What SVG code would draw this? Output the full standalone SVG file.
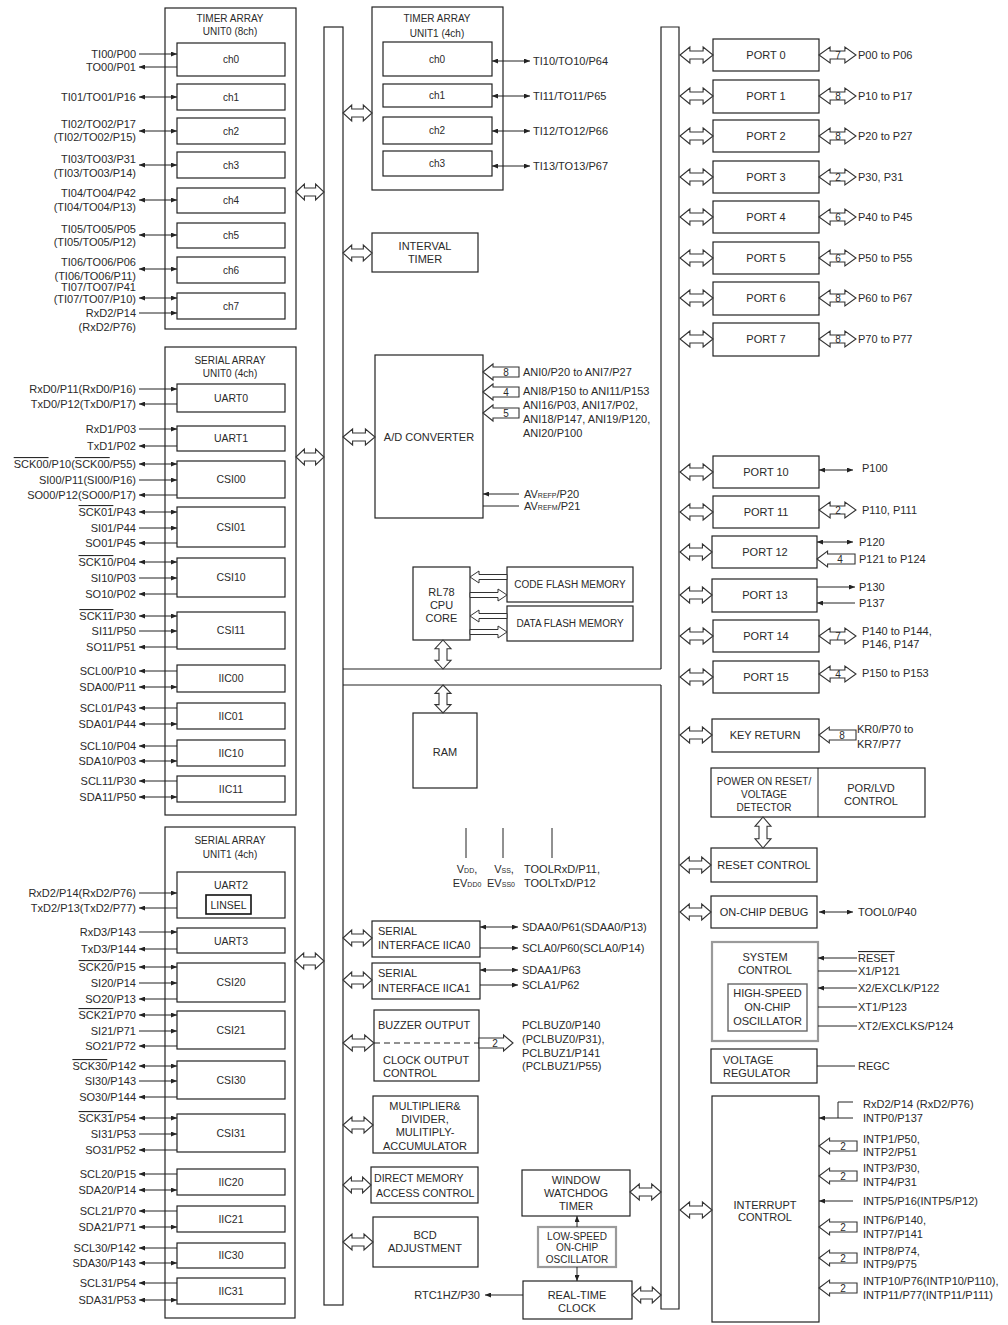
<svg xmlns="http://www.w3.org/2000/svg" width="1008" height="1325" viewBox="0 0 1008 1325">
<defs>
<style>
text{font-family:"Liberation Sans",Arial,Helvetica,sans-serif;font-size:11px;fill:#2a2a2a}
.t10{font-size:10px}
.t105{font-size:10.5px}
.m{text-anchor:middle}
.e{text-anchor:end}
.sm{font-size:7px}
.ol{text-decoration:overline}
.num{font-size:10px;text-anchor:middle}
.box{fill:#fff;stroke:#222;stroke-width:1.2}
.gbox{fill:#fff;stroke:#9a9a9a;stroke-width:2.2}
.ibox{fill:#fff;stroke:#666;stroke-width:1.4}
.bar{fill:none;stroke:#222;stroke-width:1.2}
.ln{fill:none;stroke:#222;stroke-width:1}
.a{marker-end:url(#ae)}
.b{marker-start:url(#ae);marker-end:url(#ae)}
.dash{stroke-dasharray:6,4}
</style>
<marker id="ae" viewBox="0 0 6 5" markerWidth="6" markerHeight="5" refX="6" refY="2.5" orient="auto-start-reverse" markerUnits="userSpaceOnUse"><path d="M0,0L6,2.5L0,5Z" fill="#222"/></marker>
<path id="dh" d="M0,0L9,-8L9,-4L21,-4L21,-8L30,0L21,8L21,4L9,4L9,8Z" fill="#fff" stroke="#333" stroke-width="1.1" vector-effect="non-scaling-stroke"/>
<path id="sh" d="M0,0L10,-8L10,-5L36,-5L36,5L10,5L10,8Z" fill="#fff" stroke="#333" stroke-width="1.1" vector-effect="non-scaling-stroke"/>
<path id="fa" d="M0,0L9,-6L9,-2.5L37,-2.5L37,2.5L9,2.5L9,6Z" fill="#fff" stroke="#333" stroke-width="1" vector-effect="non-scaling-stroke"/>
</defs>
<rect width="1008" height="1325" fill="#fff"/>

<!-- buses -->
<g id="bus-left"><rect class="bar" x="324" y="27" width="19" height="1278"/></g>
<g id="bus-right"><path class="bar" d="M661,669V27H679V1309H661V685"/></g>
<g id="center-top"><path class="bar" d="M343,669H661"/></g>
<g id="center-bottom"><path class="bar" d="M343,685H661"/></g>

<!-- TIMER ARRAY UNIT0 -->
<g id="tau0">
<rect class="box" x="165" y="8" width="131" height="321"/>
<text class="t10 m" x="230" y="22">TIMER ARRAY</text>
<text class="t10 m" x="230" y="35">UNIT0 (8ch)</text>
<rect class="box" x="177" y="43" width="108" height="33"/><text class="t10 m" x="231" y="63">ch0</text>
<rect class="box" x="177" y="84" width="108" height="26"/><text class="t10 m" x="231" y="101">ch1</text>
<rect class="box" x="177" y="118" width="108" height="26"/><text class="t10 m" x="231" y="135">ch2</text>
<rect class="box" x="177" y="152" width="108" height="26"/><text class="t10 m" x="231" y="169">ch3</text>
<rect class="box" x="177" y="188" width="108" height="25"/><text class="t10 m" x="231" y="204">ch4</text>
<rect class="box" x="177" y="223" width="108" height="25"/><text class="t10 m" x="231" y="239">ch5</text>
<rect class="box" x="177" y="257" width="108" height="26"/><text class="t10 m" x="231" y="274">ch6</text>
<rect class="box" x="177" y="293" width="108" height="26"/><text class="t10 m" x="231" y="310">ch7</text>
<text class="e" x="136" y="58">TI00/P00</text>
<text class="e" x="136" y="71">TO00/P01</text>
<text class="e" x="136" y="101">TI01/TO01/P16</text>
<text class="e" x="136" y="128">TI02/TO02/P17</text>
<text class="e" x="136" y="141">(TI02/TO02/P15)</text>
<text class="e" x="136" y="163">TI03/TO03/P31</text>
<text class="e" x="136" y="177">(TI03/TO03/P14)</text>
<text class="e" x="136" y="197">TI04/TO04/P42</text>
<text class="e" x="136" y="211">(TI04/TO04/P13)</text>
<text class="e" x="136" y="233">TI05/TO05/P05</text>
<text class="e" x="136" y="246">(TI05/TO05/P12)</text>
<text class="e" x="136" y="266">TI06/TO06/P06</text>
<text class="e" x="136" y="280">(TI06/TO06/P11)</text>
<text class="e" x="136" y="291">TI07/TO07/P41</text>
<text class="e" x="136" y="303">(TI07/TO07/P10)</text>
<text class="e" x="136" y="317">RxD2/P14</text>
<text class="e" x="136" y="331">(RxD2/P76)</text>
</g>

<!-- SERIAL ARRAY UNIT0 -->
<g id="sau0">
<rect class="box" x="165" y="347" width="131" height="468"/>
<text class="t10 m" x="230" y="364">SERIAL ARRAY</text>
<text class="t10 m" x="230" y="377">UNIT0 (4ch)</text>
<rect class="box" x="177" y="384" width="108" height="28"/><text class="t105 m" x="231" y="402">UART0</text>
<rect class="box" x="177" y="426" width="108" height="25"/><text class="t105 m" x="231" y="442">UART1</text>
<rect class="box" x="177" y="461" width="108" height="37"/><text class="t105 m" x="231" y="483">CSI00</text>
<rect class="box" x="177" y="507" width="108" height="40"/><text class="t105 m" x="231" y="531">CSI01</text>
<rect class="box" x="177" y="558" width="108" height="39"/><text class="t105 m" x="231" y="581">CSI10</text>
<rect class="box" x="177" y="612" width="108" height="37"/><text class="t105 m" x="231" y="634">CSI11</text>
<rect class="box" x="177" y="665" width="108" height="27"/><text class="t105 m" x="231" y="682">IIC00</text>
<rect class="box" x="177" y="703" width="108" height="26"/><text class="t105 m" x="231" y="720">IIC01</text>
<rect class="box" x="177" y="740" width="108" height="26"/><text class="t105 m" x="231" y="757">IIC10</text>
<rect class="box" x="177" y="776" width="108" height="26"/><text class="t105 m" x="231" y="793">IIC11</text>
<text class="e" x="136" y="393">RxD0/P11(RxD0/P16)</text>
<text class="e" x="136" y="408">TxD0/P12(TxD0/P17)</text>
<text class="e" x="136" y="433">RxD1/P03</text>
<text class="e" x="136" y="450">TxD1/P02</text>
<text class="e" x="136" y="468"><tspan class="ol">SCK00</tspan>/P10(<tspan class="ol">SCK00</tspan>/P55)</text>
<text class="e" x="136" y="484">SI00/P11(SI00/P16)</text>
<text class="e" x="136" y="499">SO00/P12(SO00/P17)</text>
<text class="e" x="136" y="516"><tspan class="ol">SCK01</tspan>/P43</text>
<text class="e" x="136" y="532">SI01/P44</text>
<text class="e" x="136" y="547">SO01/P45</text>
<text class="e" x="136" y="566"><tspan class="ol">SCK10</tspan>/P04</text>
<text class="e" x="136" y="582">SI10/P03</text>
<text class="e" x="136" y="598">SO10/P02</text>
<text class="e" x="136" y="620"><tspan class="ol">SCK11</tspan>/P30</text>
<text class="e" x="136" y="635">SI11/P50</text>
<text class="e" x="136" y="651">SO11/P51</text>
<text class="e" x="136" y="675">SCL00/P10</text>
<text class="e" x="136" y="691">SDA00/P11</text>
<text class="e" x="136" y="712">SCL01/P43</text>
<text class="e" x="136" y="728">SDA01/P44</text>
<text class="e" x="136" y="750">SCL10/P04</text>
<text class="e" x="136" y="765">SDA10/P03</text>
<text class="e" x="136" y="785">SCL11/P30</text>
<text class="e" x="136" y="801">SDA11/P50</text>
</g>

<!-- SERIAL ARRAY UNIT1 -->
<g id="sau1">
<rect class="box" x="165" y="827" width="130" height="491"/>
<text class="t10 m" x="230" y="844">SERIAL ARRAY</text>
<text class="t10 m" x="230" y="858">UNIT1 (4ch)</text>
<rect class="box" x="177" y="872" width="108" height="46"/><text class="t105 m" x="231" y="889">UART2</text>
<rect fill="#fff" stroke="#111" stroke-width="1.6" x="206" y="895" width="45" height="19"/><text class="t105 m" x="228.5" y="909">LINSEL</text>
<rect class="box" x="177" y="928" width="108" height="25"/><text class="t105 m" x="231" y="945">UART3</text>
<rect class="box" x="177" y="963" width="108" height="39"/><text class="t105 m" x="231" y="986">CSI20</text>
<rect class="box" x="177" y="1011" width="108" height="38"/><text class="t105 m" x="231" y="1034">CSI21</text>
<rect class="box" x="177" y="1061" width="108" height="38"/><text class="t105 m" x="231" y="1084">CSI30</text>
<rect class="box" x="177" y="1114" width="108" height="38"/><text class="t105 m" x="231" y="1137">CSI31</text>
<rect class="box" x="177" y="1169" width="108" height="26"/><text class="t105 m" x="231" y="1186">IIC20</text>
<rect class="box" x="177" y="1206" width="108" height="26"/><text class="t105 m" x="231" y="1223">IIC21</text>
<rect class="box" x="177" y="1243" width="108" height="25"/><text class="t105 m" x="231" y="1259">IIC30</text>
<rect class="box" x="177" y="1278" width="108" height="26"/><text class="t105 m" x="231" y="1295">IIC31</text>
<text class="e" x="136" y="897">RxD2/P14(RxD2/P76)</text>
<text class="e" x="136" y="912">TxD2/P13(TxD2/P77)</text>
<text class="e" x="136" y="936">RxD3/P143</text>
<text class="e" x="136" y="953">TxD3/P144</text>
<text class="e" x="136" y="971"><tspan class="ol">SCK20</tspan>/P15</text>
<text class="e" x="136" y="987">SI20/P14</text>
<text class="e" x="136" y="1003">SO20/P13</text>
<text class="e" x="136" y="1019"><tspan class="ol">SCK21</tspan>/P70</text>
<text class="e" x="136" y="1035">SI21/P71</text>
<text class="e" x="136" y="1050">SO21/P72</text>
<text class="e" x="136" y="1070"><tspan class="ol">SCK30</tspan>/P142</text>
<text class="e" x="136" y="1085">SI30/P143</text>
<text class="e" x="136" y="1101">SO30/P144</text>
<text class="e" x="136" y="1122"><tspan class="ol">SCK31</tspan>/P54</text>
<text class="e" x="136" y="1138">SI31/P53</text>
<text class="e" x="136" y="1154">SO31/P52</text>
<text class="e" x="136" y="1178">SCL20/P15</text>
<text class="e" x="136" y="1194">SDA20/P14</text>
<text class="e" x="136" y="1215">SCL21/P70</text>
<text class="e" x="136" y="1231">SDA21/P71</text>
<text class="e" x="136" y="1252">SCL30/P142</text>
<text class="e" x="136" y="1267">SDA30/P143</text>
<text class="e" x="136" y="1287">SCL31/P54</text>
<text class="e" x="136" y="1304">SDA31/P53</text>
</g>

<!-- TIMER ARRAY UNIT1 -->
<g id="tau1">
<rect class="box" x="372" y="7" width="131" height="183"/>
<text class="t10 m" x="437" y="22">TIMER ARRAY</text>
<text class="t10 m" x="437" y="37">UNIT1 (4ch)</text>
<rect class="box" x="383" y="42" width="109" height="34"/><text class="t10 m" x="437" y="63">ch0</text>
<rect class="box" x="383" y="84" width="109" height="23"/><text class="t10 m" x="437" y="99">ch1</text>
<rect class="box" x="383" y="117" width="109" height="27"/><text class="t10 m" x="437" y="134">ch2</text>
<rect class="box" x="383" y="151" width="109" height="25"/><text class="t10 m" x="437" y="167">ch3</text>
<text x="533" y="65">TI10/TO10/P64</text>
<text x="533" y="100">TI11/TO11/P65</text>
<text x="533" y="135">TI12/TO12/P66</text>
<text x="533" y="170">TI13/TO13/P67</text>
</g>

<g id="interval-timer">
<rect class="box" x="372" y="233" width="106" height="39"/>
<text class="m" x="425" y="250">INTERVAL</text>
<text class="m" x="425" y="263">TIMER</text>
</g>

<g id="adc">
<rect class="box" x="375" y="355" width="108" height="163"/>
<text class="m" x="429" y="441">A/D CONVERTER</text>
<text x="523" y="376">ANI0/P20 to ANI7/P27</text>
<text x="523" y="395">ANI8/P150 to ANI11/P153</text>
<text x="523" y="409">ANI16/P03, ANI17/P02,</text>
<text x="523" y="423">ANI18/P147, ANI19/P120,</text>
<text x="523" y="437">ANI20/P100</text>
<text x="524" y="498">AV<tspan class="sm">REFP</tspan>/P20</text>
<text x="524" y="510">AV<tspan class="sm">REFM</tspan>/P21</text>
</g>

<g id="cpu">
<rect class="box" x="413" y="567" width="57" height="73"/>
<text class="m" x="441.5" y="596">RL78</text>
<text class="m" x="441.5" y="609">CPU</text>
<text class="m" x="441.5" y="622">CORE</text>
</g>
<g id="code-flash">
<rect class="box" x="507" y="567" width="126" height="35"/>
<text class="m" x="570" y="588" style="font-size:10px">CODE FLASH MEMORY</text>
</g>
<g id="data-flash">
<rect class="box" x="507" y="606" width="126" height="35"/>
<text class="m" x="570" y="627" style="font-size:10px">DATA FLASH MEMORY</text>
</g>

<g id="ram">
<rect class="box" x="413" y="713" width="64" height="75"/>
<text class="m" x="445" y="756">RAM</text>
</g>

<g id="power-pins">
<text class="m" x="467" y="873">V<tspan class="sm">DD</tspan>,</text>
<text class="m" x="467" y="887">EV<tspan class="sm">DD0</tspan></text>
<text class="m" x="504" y="873">V<tspan class="sm">SS</tspan>,</text>
<text class="m" x="501" y="887">EV<tspan class="sm">SS0</tspan></text>
<text x="524" y="873">TOOLRxD/P11,</text>
<text x="524" y="887">TOOLTxD/P12</text>
</g>

<g id="iica0">
<rect class="box" x="372" y="921" width="108" height="36"/>
<text x="378" y="935">SERIAL</text>
<text x="378" y="949">INTERFACE IICA0</text>
<text x="522" y="931">SDAA0/P61(SDAA0/P13)</text>
<text x="522" y="952">SCLA0/P60(SCLA0/P14)</text>
</g>
<g id="iica1">
<rect class="box" x="372" y="963" width="108" height="36"/>
<text x="378" y="977">SERIAL</text>
<text x="378" y="992">INTERFACE IICA1</text>
<text x="522" y="974">SDAA1/P63</text>
<text x="522" y="989">SCLA1/P62</text>
</g>

<g id="buzzer">
<rect class="box" x="374" y="1010" width="105" height="71"/>
<text x="378" y="1029">BUZZER OUTPUT</text>
<path class="ln dash" d="M374,1043H479"/>
<text x="383" y="1064">CLOCK OUTPUT</text>
<text x="383" y="1077">CONTROL</text>
<text x="522" y="1029">PCLBUZ0/P140</text>
<text x="522" y="1043">(PCLBUZ0/P31),</text>
<text x="522" y="1057">PCLBUZ1/P141</text>
<text x="522" y="1070">(PCLBUZ1/P55)</text>
</g>

<g id="muldiv">
<rect class="box" x="373" y="1096" width="105" height="57"/>
<text class="m" x="425" y="1110">MULTIPLIER&amp;</text>
<text class="m" x="425" y="1123">DIVIDER,</text>
<text class="m" x="425" y="1136">MULITIPLY-</text>
<text class="m" x="425" y="1150">ACCUMULATOR</text>
</g>

<g id="dma">
<rect class="box" x="371" y="1167" width="107" height="36"/>
<text x="374" y="1182" style="font-size:10.6px">DIRECT MEMORY</text>
<text x="376" y="1197" style="font-size:10.6px">ACCESS CONTROL</text>
</g>

<g id="bcd">
<rect class="box" x="373" y="1217" width="105" height="50"/>
<text class="m" x="425" y="1239">BCD</text>
<text class="m" x="425" y="1252">ADJUSTMENT</text>
</g>

<g id="wdt">
<rect class="box" x="522" y="1170" width="108" height="46"/>
<text class="m" x="576" y="1184">WINDOW</text>
<text class="m" x="576" y="1197">WATCHDOG</text>
<text class="m" x="576" y="1210">TIMER</text>
</g>

<g id="lso">
<rect class="gbox" x="538" y="1227" width="78" height="40"/>
<text class="t10 m" x="577" y="1240">LOW-SPEED</text>
<text class="t10 m" x="577" y="1251">ON-CHIP</text>
<text class="t10 m" x="577" y="1263">OSCILLATOR</text>
</g>

<g id="rtc">
<rect class="box" x="523" y="1281" width="109" height="38"/>
<text class="m" x="577" y="1299">REAL-TIME</text>
<text class="m" x="577" y="1312">CLOCK</text>
<text class="e" x="480" y="1299">RTC1HZ/P30</text>
</g>

<!-- Ports -->
<g id="port0"><rect class="box" x="713" y="39" width="106" height="32"/><text class="m" x="766" y="59">PORT 0</text><text x="858" y="59">P00 to P06</text></g>
<g id="port1"><rect class="box" x="713" y="80" width="106" height="33"/><text class="m" x="766" y="100">PORT 1</text><text x="858" y="100">P10 to P17</text></g>
<g id="port2"><rect class="box" x="713" y="120" width="106" height="32"/><text class="m" x="766" y="140">PORT 2</text><text x="858" y="140">P20 to P27</text></g>
<g id="port3"><rect class="box" x="713" y="161" width="106" height="32"/><text class="m" x="766" y="181">PORT 3</text><text x="858" y="181">P30, P31</text></g>
<g id="port4"><rect class="box" x="713" y="201" width="106" height="32"/><text class="m" x="766" y="221">PORT 4</text><text x="858" y="221">P40 to P45</text></g>
<g id="port5"><rect class="box" x="713" y="242" width="106" height="32"/><text class="m" x="766" y="262">PORT 5</text><text x="858" y="262">P50 to P55</text></g>
<g id="port6"><rect class="box" x="713" y="282" width="106" height="33"/><text class="m" x="766" y="302">PORT 6</text><text x="858" y="302">P60 to P67</text></g>
<g id="port7"><rect class="box" x="713" y="323" width="106" height="33"/><text class="m" x="766" y="343">PORT 7</text><text x="858" y="343">P70 to P77</text></g>
<g id="port10"><rect class="box" x="713" y="456" width="106" height="32"/><text class="m" x="766" y="476">PORT 10</text><text x="862" y="472">P100</text></g>
<g id="port11"><rect class="box" x="713" y="496" width="106" height="32"/><text class="m" x="766" y="516">PORT 11</text><text x="862" y="514">P110, P111</text></g>
<g id="port12"><rect class="box" x="712" y="536" width="105" height="32"/><text class="m" x="765" y="556">PORT 12</text><text x="859" y="546">P120</text><text x="859" y="563">P121 to P124</text></g>
<g id="port13"><rect class="box" x="712" y="579" width="105" height="33"/><text class="m" x="765" y="599">PORT 13</text><text x="859" y="591">P130</text><text x="859" y="607">P137</text></g>
<g id="port14"><rect class="box" x="713" y="620" width="106" height="32"/><text class="m" x="766" y="640">PORT 14</text><text x="862" y="635">P140 to P144,</text><text x="862" y="648">P146, P147</text></g>
<g id="port15"><rect class="box" x="713" y="661" width="106" height="32"/><text class="m" x="766" y="681">PORT 15</text><text x="862" y="677">P150 to P153</text></g>
<g id="key-return"><rect class="box" x="712" y="719" width="107" height="33"/><text class="m" x="765" y="739">KEY RETURN</text><text x="857" y="733">KR0/P70 to</text><text x="857" y="748">KR7/P77</text></g>

<g id="por">
<rect class="box" x="711" y="768" width="214" height="49"/>
<path class="ln" d="M818,768V817"/>
<text class="t10 m" x="764" y="785">POWER ON RESET/</text>
<text class="t10 m" x="764" y="798">VOLTAGE</text>
<text class="t10 m" x="764" y="811">DETECTOR</text>
<text class="m" x="871" y="792">POR/LVD</text>
<text class="m" x="871" y="805">CONTROL</text>
</g>
<g id="reset-control"><rect class="box" x="711" y="848" width="106" height="34"/><text class="m" x="764" y="869">RESET CONTROL</text></g>
<g id="debug"><rect class="box" x="711" y="896" width="106" height="32"/><text class="m" x="764" y="916">ON-CHIP DEBUG</text><text x="858" y="916">TOOL0/P40</text></g>
<g id="system-control">
<rect class="gbox" x="712" y="942" width="106" height="99"/>
<text class="m" x="765" y="961">SYSTEM</text>
<text class="m" x="765" y="974">CONTROL</text>
<rect class="ibox" x="728" y="984" width="79" height="47"/>
<text class="m" x="767.5" y="997">HIGH-SPEED</text>
<text class="m" x="767.5" y="1011">ON-CHIP</text>
<text class="m" x="767.5" y="1025">OSCILLATOR</text>
<text x="858" y="962"><tspan class="ol">RESET</tspan></text>
<text x="858" y="975">X1/P121</text>
<text x="858" y="992">X2/EXCLK/P122</text>
<text x="858" y="1011">XT1/P123</text>
<text x="858" y="1030">XT2/EXCLKS/P124</text>
</g>
<g id="regulator">
<rect class="box" x="711" y="1049" width="106" height="34"/>
<text x="723" y="1064">VOLTAGE</text>
<text x="723" y="1077">REGULATOR</text>
<text x="858" y="1070">REGC</text>
</g>
<g id="interrupt">
<rect class="box" x="712" y="1096" width="107" height="226"/>
<text class="m" x="765" y="1209">INTERRUPT</text>
<text class="m" x="765" y="1221">CONTROL</text>
<text x="863" y="1108">RxD2/P14 (RxD2/P76)</text>
<text x="863" y="1122">INTP0/P137</text>
<text x="863" y="1143">INTP1/P50,</text>
<text x="863" y="1156">INTP2/P51</text>
<text x="863" y="1172">INTP3/P30,</text>
<text x="863" y="1186">INTP4/P31</text>
<text x="863" y="1205">INTP5/P16(INTP5/P12)</text>
<text x="863" y="1224">INTP6/P140,</text>
<text x="863" y="1238">INTP7/P141</text>
<text x="863" y="1255">INTP8/P74,</text>
<text x="863" y="1268">INTP9/P75</text>
<text x="863" y="1285">INTP10/P76(INTP10/P110),</text>
<text x="863" y="1299">INTP11/P77(INTP11/P111)</text>
</g>

<g id="connectors">
<!-- TAU0 pins -->
<path class="ln a" d="M139,54H177"/>
<path class="ln a" d="M177,67H139"/>
<path class="ln b" d="M139,97H177"/>
<path class="ln b" d="M139,131H177"/>
<path class="ln b" d="M139,165H177"/>
<path class="ln b" d="M139,200H177"/>
<path class="ln b" d="M139,235H177"/>
<path class="ln b" d="M139,269H177"/>
<path class="ln b" d="M139,298H177"/>
<path class="ln a" d="M139,313H177"/>
<!-- SAU0 pins -->
<path class="ln a" d="M139,389H177"/>
<path class="ln a" d="M177,404H139"/>
<path class="ln a" d="M139,429H177"/>
<path class="ln a" d="M177,446H139"/>
<path class="ln b" d="M139,464H177"/>
<path class="ln a" d="M139,480H177"/>
<path class="ln a" d="M177,495H139"/>
<path class="ln b" d="M139,512H177"/>
<path class="ln a" d="M139,528H177"/>
<path class="ln a" d="M177,543H139"/>
<path class="ln b" d="M139,562H177"/>
<path class="ln a" d="M139,578H177"/>
<path class="ln a" d="M177,594H139"/>
<path class="ln b" d="M139,616H177"/>
<path class="ln a" d="M139,631H177"/>
<path class="ln a" d="M177,647H139"/>
<path class="ln a" d="M177,671H139"/>
<path class="ln b" d="M139,687H177"/>
<path class="ln a" d="M177,708H139"/>
<path class="ln b" d="M139,724H177"/>
<path class="ln a" d="M177,746H139"/>
<path class="ln b" d="M139,761H177"/>
<path class="ln a" d="M177,781H139"/>
<path class="ln b" d="M139,797H177"/>
<!-- SAU1 pins -->
<path class="ln a" d="M139,893H177"/>
<path class="ln a" d="M177,908H139"/>
<path class="ln a" d="M139,932H177"/>
<path class="ln a" d="M177,949H139"/>
<path class="ln b" d="M139,967H177"/>
<path class="ln a" d="M139,983H177"/>
<path class="ln a" d="M177,999H139"/>
<path class="ln b" d="M139,1015H177"/>
<path class="ln a" d="M139,1031H177"/>
<path class="ln a" d="M177,1046H139"/>
<path class="ln b" d="M139,1066H177"/>
<path class="ln a" d="M139,1081H177"/>
<path class="ln a" d="M177,1097H139"/>
<path class="ln b" d="M139,1118H177"/>
<path class="ln a" d="M139,1134H177"/>
<path class="ln a" d="M177,1150H139"/>
<path class="ln a" d="M177,1174H139"/>
<path class="ln b" d="M139,1190H177"/>
<path class="ln a" d="M177,1211H139"/>
<path class="ln b" d="M139,1227H177"/>
<path class="ln a" d="M177,1248H139"/>
<path class="ln b" d="M139,1263H177"/>
<path class="ln a" d="M177,1283H139"/>
<path class="ln b" d="M139,1300H177"/>
<!-- TAU1 pins -->
<path class="ln b" d="M492,61H530"/>
<path class="ln b" d="M492,96H530"/>
<path class="ln b" d="M492,131H530"/>
<path class="ln b" d="M492,166H530"/>
<!-- ADC -->
<use href="#sh" transform="translate(483,372)"/><text class="num" x="506" y="376">8</text>
<use href="#sh" transform="translate(483,392)"/><text class="num" x="506" y="396">4</text>
<use href="#sh" transform="translate(483,413)"/><text class="num" x="506" y="417">5</text>
<path class="ln a" d="M519,494H483"/>
<path class="ln" d="M519,506H483"/>
<!-- CPU / flash -->
<use href="#fa" transform="translate(470,577)"/>
<use href="#fa" transform="translate(507,595) scale(-1,1)"/>
<use href="#fa" transform="translate(470,616)"/>
<use href="#fa" transform="translate(507,632) scale(-1,1)"/>
<use href="#dh" transform="translate(443,640) rotate(90) scale(0.967,1)"/>
<use href="#dh" transform="translate(443,685) rotate(90) scale(0.933,1)"/>
<!-- power pins -->
<path class="ln" d="M466,828V858M503,828V858M552,828V858"/>
<!-- IICA -->
<path class="ln b" d="M480,927H518"/>
<path class="ln a" d="M480,948H518"/>
<path class="ln b" d="M480,970H518"/>
<path class="ln a" d="M480,985H518"/>
<!-- buzzer -->
<use href="#sh" transform="translate(513,1043) scale(-0.944,1)"/><text class="num" x="495" y="1047">2</text>
<!-- LSO / RTC -->
<path class="ln a" d="M577,1227V1216"/>
<path class="ln a" d="M577,1267V1281"/>
<path class="ln a" d="M523,1295H485"/>
<!-- left bus arrows -->
<use href="#dh" transform="translate(296,192) scale(0.933,1)"/>
<use href="#dh" transform="translate(296,457) scale(0.933,1)"/>
<use href="#dh" transform="translate(295,961) scale(0.967,1)"/>
<use href="#dh" transform="translate(343,113) scale(0.967,1)"/>
<use href="#dh" transform="translate(343,253) scale(0.967,1)"/>
<use href="#dh" transform="translate(343,437) scale(1.067,1)"/>
<use href="#dh" transform="translate(343,938) scale(0.967,1)"/>
<use href="#dh" transform="translate(343,980) scale(0.967,1)"/>
<use href="#dh" transform="translate(343,1043) scale(1.033,1)"/>
<use href="#dh" transform="translate(343,1125) scale(1,1)"/>
<use href="#dh" transform="translate(343,1185) scale(0.933,1)"/>
<use href="#dh" transform="translate(343,1242) scale(1,1)"/>
<!-- right bus arrows from center -->
<use href="#dh" transform="translate(630,1192) scale(1.033,1)"/>
<use href="#dh" transform="translate(632,1295) scale(0.967,1)"/>
<!-- right bus to ports -->
<use href="#dh" transform="translate(680,55) scale(1.1,1)"/>
<use href="#dh" transform="translate(680,96) scale(1.1,1)"/>
<use href="#dh" transform="translate(680,136) scale(1.1,1)"/>
<use href="#dh" transform="translate(680,177) scale(1.1,1)"/>
<use href="#dh" transform="translate(680,217) scale(1.1,1)"/>
<use href="#dh" transform="translate(680,258) scale(1.1,1)"/>
<use href="#dh" transform="translate(680,298) scale(1.1,1)"/>
<use href="#dh" transform="translate(680,339) scale(1.1,1)"/>
<use href="#dh" transform="translate(680,472) scale(1.1,1)"/>
<use href="#dh" transform="translate(680,512) scale(1.1,1)"/>
<use href="#dh" transform="translate(680,552) scale(1.067,1)"/>
<use href="#dh" transform="translate(680,595) scale(1.067,1)"/>
<use href="#dh" transform="translate(680,636) scale(1.1,1)"/>
<use href="#dh" transform="translate(680,677) scale(1.1,1)"/>
<use href="#dh" transform="translate(680,735) scale(1.067,1)"/>
<use href="#dh" transform="translate(680,865) scale(1.033,1)"/>
<use href="#dh" transform="translate(680,912) scale(1.033,1)"/>
<use href="#dh" transform="translate(680,1210) scale(1.067,1)"/>
<use href="#dh" transform="translate(763,817) rotate(90) scale(1.033,1)"/>
<!-- port pin arrows -->
<use href="#dh" transform="translate(819,55) scale(1.233,1)"/><text class="num" x="838" y="59">7</text>
<use href="#dh" transform="translate(819,96) scale(1.233,1)"/><text class="num" x="838" y="100">8</text>
<use href="#dh" transform="translate(819,136) scale(1.233,1)"/><text class="num" x="838" y="140">8</text>
<use href="#dh" transform="translate(819,177) scale(1.233,1)"/><text class="num" x="838" y="181">2</text>
<use href="#dh" transform="translate(819,217) scale(1.233,1)"/><text class="num" x="838" y="221">6</text>
<use href="#dh" transform="translate(819,258) scale(1.233,1)"/><text class="num" x="838" y="262">6</text>
<use href="#dh" transform="translate(819,298) scale(1.233,1)"/><text class="num" x="838" y="302">8</text>
<use href="#dh" transform="translate(819,339) scale(1.233,1)"/><text class="num" x="838" y="343">8</text>
<path class="ln b" d="M819,470H853"/>
<use href="#dh" transform="translate(819,510) scale(1.233,1)"/><text class="num" x="838" y="514">2</text>
<path class="ln b" d="M817,542H853"/>
<use href="#sh" transform="translate(817,559) scale(1.056,1)"/><text class="num" x="840" y="563">4</text>
<path class="ln a" d="M817,587H855"/>
<path class="ln a" d="M855,603H817"/>
<use href="#dh" transform="translate(819,636) scale(1.233,1)"/><text class="num" x="838" y="640">7</text>
<use href="#dh" transform="translate(819,674) scale(1.233,1)"/><text class="num" x="838" y="678">4</text>
<use href="#sh" transform="translate(819,735) scale(1.028,1)"/><text class="num" x="842" y="739">8</text>
<!-- debug / system / regulator -->
<path class="ln b" d="M819,912H853"/>
<path class="ln a" d="M857,958H818"/>
<path class="ln" d="M857,971H818"/>
<path class="ln a" d="M857,988H818"/>
<path class="ln" d="M857,1007H818"/>
<path class="ln" d="M857,1026H818"/>
<path class="ln" d="M817,1066H855"/>
<!-- interrupt -->
<path class="ln" d="M853,1102H838V1118"/>
<path class="ln a" d="M853,1118H819"/>
<use href="#sh" transform="translate(819,1146) scale(1.056,1)"/><text class="num" x="843" y="1150">2</text>
<use href="#sh" transform="translate(819,1176) scale(1.056,1)"/><text class="num" x="843" y="1180">2</text>
<path class="ln a" d="M853,1201H819"/>
<use href="#sh" transform="translate(819,1227) scale(1.056,1)"/><text class="num" x="843" y="1231">2</text>
<use href="#sh" transform="translate(819,1258) scale(1.056,1)"/><text class="num" x="843" y="1262">2</text>
<use href="#sh" transform="translate(819,1288) scale(1.056,1)"/><text class="num" x="843" y="1292">2</text>
</g>
</svg>
